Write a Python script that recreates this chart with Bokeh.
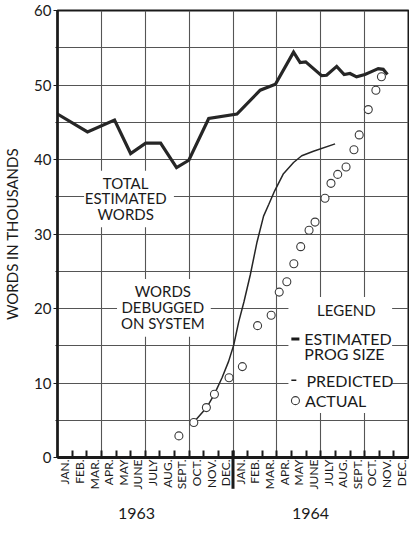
import math

from bokeh.plotting import figure
from bokeh.models import FixedTicker, LinearAxis, Label, BoxAnnotation, Range1d
from bokeh.embed import file_html
from bokeh.resources import INLINE

# Month axis labels (two years) and year captions
MONTHS = ["JAN.", "FEB.", "MAR.", "APR.", "MAY", "JUNE",
          "JULY", "AUG.", "SEPT.", "OCT.", "NOV.", "DEC."]
YEARS = ["1963", "1964"]
YEAR_POS = [5.4, 17.3]

# x is measured in months from the start of January 1963
# Total estimated program size, thousands of words
est_month = [0.0, 2.05, 3.9, 5.0, 6.03, 7.05, 8.14, 8.98, 10.34, 12.27, 13.86,
             14.9, 16.14, 16.59, 16.97, 18.06, 18.4, 19.09, 19.6, 20.0, 20.45,
             21.02, 21.47, 21.93, 22.27, 22.56]
est_words = [46.1, 43.7, 45.3, 40.8, 42.2, 42.2, 38.9, 39.9, 45.5, 46.1, 49.3,
             50.1, 54.4, 53.0, 53.1, 51.25, 51.3, 52.5, 51.4, 51.55, 51.1,
             51.4, 51.8, 52.2, 52.1, 51.4]

# Predicted words debugged on the system
pred_month = [9.3, 10.2, 10.73, 11.25, 11.7, 12.05, 12.39, 12.75, 13.18, 13.64,
              14.09, 14.45, 14.85, 15.45, 16.14, 16.7, 17.5, 18.98]
pred_words = [4.7, 6.7, 8.5, 10.7, 12.9, 15.1, 18.2, 20.9, 24.5, 28.9,
              32.4, 34.0, 35.8, 38.1, 39.6, 40.5, 41.1, 42.1]

# Actual words debugged on the system
act_month = [8.3, 9.32, 10.18, 10.73, 11.73, 12.64, 13.68, 14.61, 15.16, 15.68,
             16.16, 16.63, 17.2, 17.61, 18.29, 18.7, 19.16, 19.73, 20.27, 20.63,
             21.25, 21.77, 22.15]
act_words = [2.9, 4.7, 6.7, 8.5, 10.7, 12.2, 17.7, 19.1, 22.2, 23.6,
             26.0, 28.3, 30.5, 31.6, 34.8, 36.8, 38.0, 39.0, 41.3, 43.3,
             46.7, 49.3, 51.1]

FONT = "Lato"
INK = "#1a1a1a"
GRID = "#555555"

p = figure(width=409, height=537, x_range=Range1d(0, 24), y_range=Range1d(0, 60),
           output_backend="svg", toolbar_location=None,
           min_border_left=53, min_border_right=1, min_border_top=10,
           min_border_bottom=80)
p.background_fill_color = "white"
p.border_fill_color = "white"
p.outline_line_color = INK
p.outline_line_width = 2

# grid: every quarter horizontally, every 5k words vertically
p.xgrid.ticker = FixedTicker(ticks=[3, 6, 9, 12, 15, 18, 21])
p.ygrid.ticker = FixedTicker(ticks=list(range(5, 60, 5)))
p.grid.grid_line_color = GRID
p.grid.grid_line_width = 1.1

# month axis: labels centred in each month, tick marks at month ends
xa = p.xaxis[0]
centres = [m + 0.5 for m in range(24)]
xa.ticker = FixedTicker(ticks=centres, minor_ticks=list(range(1, 24)))
xa.major_label_overrides = {c: MONTHS[i % 12] for i, c in enumerate(centres)}
xa.major_tick_in = 0
xa.major_tick_out = 0
xa.minor_tick_in = 7
xa.minor_tick_out = 0
xa.minor_tick_line_width = 2
xa.minor_tick_line_color = INK
xa.axis_line_width = 3
xa.axis_line_color = INK
xa.major_label_orientation = math.pi / 2
xa.major_label_standoff = 2
xa.major_label_text_font = FONT
xa.major_label_text_font_size = "12px"
xa.major_label_text_color = INK

# year captions under the month names
ya_years = LinearAxis(ticker=FixedTicker(ticks=YEAR_POS),
                      major_label_overrides=dict(zip(YEAR_POS, YEARS)))
ya_years.axis_line_color = None
ya_years.major_tick_line_color = None
ya_years.minor_tick_line_color = None
ya_years.major_label_standoff = 9
ya_years.major_label_text_font = FONT
ya_years.major_label_text_font_size = "16px"
ya_years.major_label_text_color = INK
p.add_layout(ya_years, "below")

ya = p.yaxis[0]
ya.ticker = FixedTicker(ticks=list(range(0, 61, 10)), minor_ticks=list(range(5, 60, 10)))
ya.major_tick_in = 0
ya.major_tick_out = 4
ya.minor_tick_in = 0
ya.minor_tick_out = 2
ya.major_tick_line_color = INK
ya.minor_tick_line_color = INK
ya.axis_line_width = 2.5
ya.axis_line_color = INK
ya.major_label_standoff = 2
ya.major_label_text_font = FONT
ya.major_label_text_font_size = "15px"
ya.major_label_text_color = INK
ya.axis_label = "WORDS IN THOUSANDS"
ya.axis_label_standoff = 10
ya.axis_label_text_font = FONT
ya.axis_label_text_font_style = "normal"
ya.axis_label_text_font_size = "15px"
ya.axis_label_text_color = INK

# white panels behind the captions and the legend
for left, right, bottom, top in [(1.82, 7.96, 30.9, 38.5),
                                 (4.07, 10.48, 16.2, 23.96),
                                 (15.79, 22.88, 5.96, 21.56)]:
    p.add_layout(BoxAnnotation(left=left, right=right, bottom=bottom, top=top,
                               fill_color="white", fill_alpha=1.0,
                               line_color=None, level="underlay"))

# thick divider between the two years, running down through the labels
p.segment(x0=[12], y0=[0.93], x1=[12], y1=[-4.2], line_width=3,
          line_color=INK, level="overlay")

# data
p.line(est_month, est_words, line_width=3.2, line_color="#262626",
       line_join="miter")
p.line(pred_month, pred_words, line_width=1.5, line_color="#262626")
p.scatter(act_month, act_words, size=8, marker="circle", fill_color="white",
          line_color="#3a3a3a", line_width=1.1)


def caption(x, y, text, size="15px", align="center"):
    p.add_layout(Label(x=x, y=y, text=text, text_align=align,
                       text_baseline="middle", text_font=FONT,
                       text_font_size=size, text_color=INK))


for y, t in [(36.9, "TOTAL"), (34.8, "ESTIMATED"), (32.7, "WORDS")]:
    caption(4.66, y, t)
for y, t in [(22.3, "WORDS"), (20.2, "DEBUGGED"), (18.0, "ON SYSTEM")]:
    caption(7.2, y, t)

# legend
caption(19.75, 19.76, "LEGEND")
p.segment(x0=[15.99], y0=[15.9], x1=[16.54], y1=[15.9], line_width=3,
          line_color=INK)
caption(16.88, 15.96, "ESTIMATED", size="16px", align="left")
caption(16.88, 13.96, "PROG SIZE", size="16px", align="left")
p.segment(x0=[15.99], y0=[10.36], x1=[16.33], y1=[10.36], line_width=1.5,
          line_color=INK)
caption(17.02, 10.36, "PREDICTED", size="16px", align="left")
p.scatter([16.27], [7.63], size=8, marker="circle", fill_color="white",
          line_color="#3a3a3a", line_width=1.1)
caption(16.93, 7.63, "ACTUAL", size="16px", align="left")

open("out.html", "w").write(file_html(p, INLINE))
